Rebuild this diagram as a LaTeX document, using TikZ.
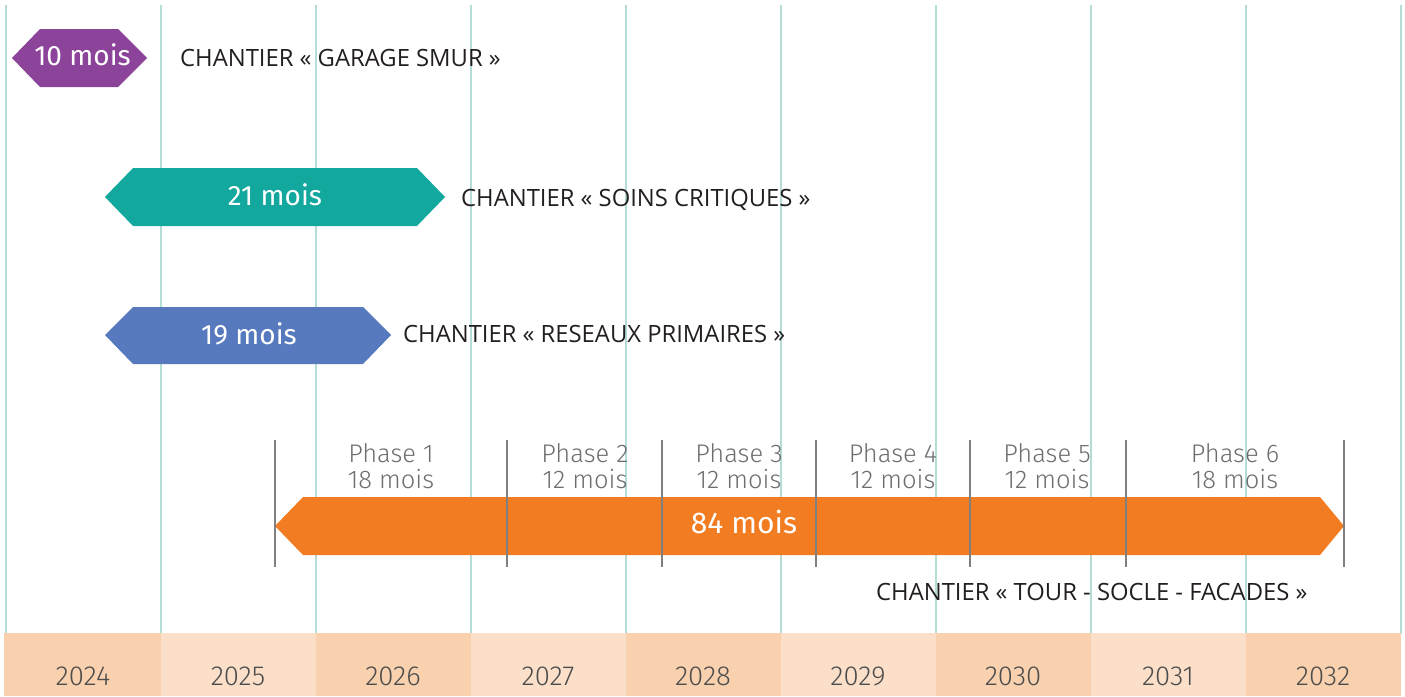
\documentclass[tikz,border=0pt]{standalone}
\usepackage{fontspec}
\setmainfont{Open Sans}
\newfontfamily\numfont{Fira Sans}
\newfontfamily\lightfont{Fira Sans Light}
\definecolor{cpurple}{HTML}{8B4499}
\definecolor{cteal}{HTML}{12A89D}
\definecolor{cblue}{HTML}{5779BE}
\definecolor{corange}{HTML}{F27C22}
\definecolor{cgrid}{HTML}{B5DDD8}
\definecolor{cbandA}{HTML}{F9D1AF}
\definecolor{cbandB}{HTML}{FBDFC8}
\definecolor{clabel}{HTML}{231F20}
\definecolor{cphase}{HTML}{6D6E71}
\definecolor{cyear}{HTML}{4D4D4D}
\definecolor{cdiv}{HTML}{808080}
\begin{document}
\begin{tikzpicture}[x=1pt,y=-1pt,
  gridline/.style={cgrid,line width=2pt},
  divline/.style={cdiv,line width=1.2pt},
  mois/.style={text=white,font=\numfont\fontsize{28}{30}\selectfont,inner sep=0pt,anchor=base},
  bigmois/.style={mois,font=\numfont\fontsize{30}{32}\selectfont},
  lab/.style={text=clabel,font=\fontsize{23.8}{26}\selectfont,inner sep=0pt,anchor=base west},
  phase/.style={text=cphase,font=\lightfont\fontsize{25.5}{27}\selectfont,inner sep=0pt,anchor=base},
  year/.style={text=cyear,font=\lightfont\fontsize{27.5}{29}\selectfont,inner sep=0pt,anchor=base}]
\useasboundingbox (0,0) rectangle (1405,696);
\fill[white] (0,0) rectangle (1405,696);
% grid lines
\foreach \i in {0,...,9} \draw[gridline] ({6+155*\i},5) -- ({6+155*\i},634);
% year band
\foreach \i/\yr in {0/2024,1/2025,2/2026,3/2027,4/2028,5/2029,6/2030,7/2031,8/2032} {
  \pgfmathsetmacro{\xa}{6+155*\i}
  \ifodd\i \def\bc{cbandB}\else \def\bc{cbandA}\fi
  \fill[\bc] (\xa,633) rectangle ({\xa+155},696);
  \node[year] (y\yr) at ({\xa+77},685) {\yr};
}
\fill[cbandA] (4,633) rectangle (6,696);
% hexagon bars
\fill[cpurple] (12,58) -- (40,29) -- (118,29) -- (147,58) -- (118,87) -- (40,87) -- cycle;
\fill[cteal] (105,197) -- (133,168) -- (417,168) -- (445,197) -- (417,226) -- (133,226) -- cycle;
\fill[cblue] (105,335) -- (133,307) -- (363,307) -- (391,335) -- (363,364) -- (133,364) -- cycle;
\fill[corange] (275,526) -- (303,497) -- (1320,497) -- (1344,526) -- (1320,555) -- (303,555) -- cycle;
% phase dividers
\foreach \x in {275,507,662,816,970,1126,1344} \draw[divline] (\x,440) -- (\x,567);
% bar texts
\node[mois] (m10) at (82.5,65) {10 mois};
\node[mois] (m21) at (275,205) {21 mois};
\node[mois] (m19) at (249,344) {19 mois};
\node[bigmois] (m84) at (744,533) {84 mois};
% labels
\node[lab] (l1) at (180,66) {CHANTIER « GARAGE SMUR »};
\node[lab] (l2) at (461,206) {CHANTIER « SOINS CRITIQUES »};
\node[lab] (l3) at (403,342) {CHANTIER « RESEAUX PRIMAIRES »};
\node[lab] (l4) at (876,600) {CHANTIER « TOUR - SOCLE - FACADES »};
% phases
\foreach \n/\cx/\d in {1/391/18,2/585/12,3/739/12,4/893/12,5/1047/12,6/1235/18} {
  \node[phase] (ph\n) at (\cx,462) {Phase \n};
  \node[phase] (pd\n) at (\cx,488) {\d{} mois};
}
\end{tikzpicture}
\end{document}
